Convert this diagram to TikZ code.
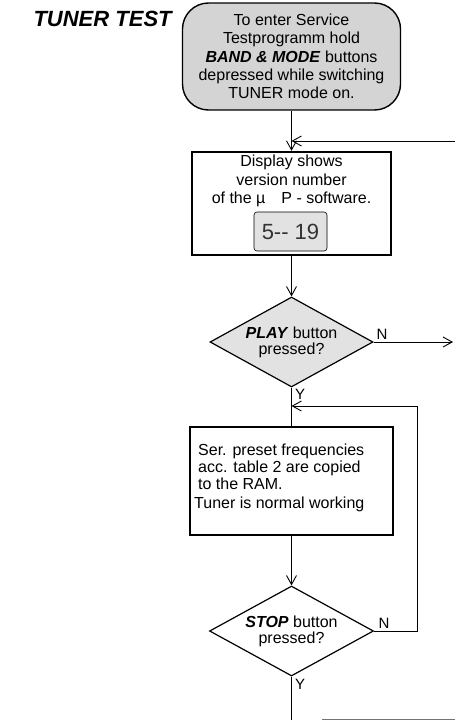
\documentclass[tikz,border=0pt]{standalone}
\usepackage{fontspec}
\setmainfont{Liberation Sans}
\usetikzlibrary{shapes.geometric,arrows.meta}
\definecolor{boxgray}{RGB}{212,212,212}
\definecolor{diagray}{RGB}{226,226,226}
\begin{document}
\begin{tikzpicture}[x=1pt,y=-1pt, every node/.style={font=\fontsize{16}{18.3}\selectfont},
        startbox/.style={draw, line width=1.4pt, fill=boxgray, rounded corners=26pt, minimum width=218pt, minimum height=107pt, align=center, inner sep=0pt},
        procbox/.style={draw, line width=2.4pt, inner sep=0pt},
        decision/.style={diamond, draw, line width=1.2pt, aspect=1.8, inner sep=0pt, align=center, font=\fontsize{16}{16}\selectfont},
        flow/.style={line width=0.9pt},
        arr/.style={flow, -{Straight Barb[length=9pt,width=10pt]}},
        lbl/.style={font=\fontsize{15}{15}\selectfont, inner sep=0pt}]
        \useasboundingbox (0,0) rectangle (455,720);
        \node[font=\fontsize{22}{22}\selectfont\bfseries\itshape, anchor=base west] (title) at (30,26.5) {TUNER TEST};
        \node[startbox] (enter) at (291.5,56.5) {To enter Service\\Testprogramm hold\\\textbf{\textit{BAND \& MODE}} buttons\\depressed while switching\\TUNER mode on.};
        % display box with the version number
        \node[procbox, minimum width=199pt, minimum height=103pt] (display) at (291.5,203.5) {};
        \node[align=center, inner sep=0pt] (disptext) at (291.5,181) {Display shows\\version number\\of the µ\quad P - software.};
        \node[draw, line width=0.6pt, fill=diagray, rounded corners=3pt, minimum width=73pt, minimum height=39pt, font=\fontsize{22}{22}\selectfont, text=black!80] (lcd) at (290.5,231.5) {5{-}{-} 19};
        \node[decision, fill=diagray, minimum width=163pt, minimum height=90pt] (play) at (291.5,342) {\textbf{\textit{PLAY}} button\\pressed?};
        \node[procbox, minimum width=203pt, minimum height=108pt] (preset) at (291.5,481) {};
        \node[anchor=north west, align=left, inner sep=0pt, font=\fontsize{16}{17}\selectfont] (presettext) at (198,443.5) {Ser. preset frequencies\\acc. table 2 are copied\\to the RAM.\\[2pt]\hspace*{-4pt}Tuner is normal working};
        \node[decision, fill=white, minimum width=164pt, minimum height=90pt] (stop) at (291.5,631) {\textbf{\textit{STOP}} button\\pressed?};
        % connectors
        \coordinate (loopin) at (455,141);
        \coordinate (playout) at (455,342);
        \coordinate (stopturn) at (417,406);
        \coordinate (exitend) at (291.5,720);
        \draw[arr] (enter.south) -- (display.north);
        \draw[arr] (loopin) -- (loopin -| enter.south);
        \draw[arr] (display.south) -- (play.north);
        \draw[arr, shorten >=2pt] (play.east) -- (playout);
        \draw[flow] (play.south) -- (preset.north);
        \draw[arr] (preset.south) -- (stop.north);
        \draw[arr] (stop.east) -| (stopturn) -- (stopturn -| play.south);
        \draw[flow] (stop.south) -- (exitend);
        \draw[black!55, line width=0.9pt] (322,719) -- (455,719);
        \node[lbl] (playn) at (382,334) {N};
        \node[lbl] (playy) at (300,394) {Y};
        \node[lbl] (stopn) at (384,623) {N};
        \node[lbl] (stopy) at (300,684) {Y};
    \end{tikzpicture}
\end{document}
